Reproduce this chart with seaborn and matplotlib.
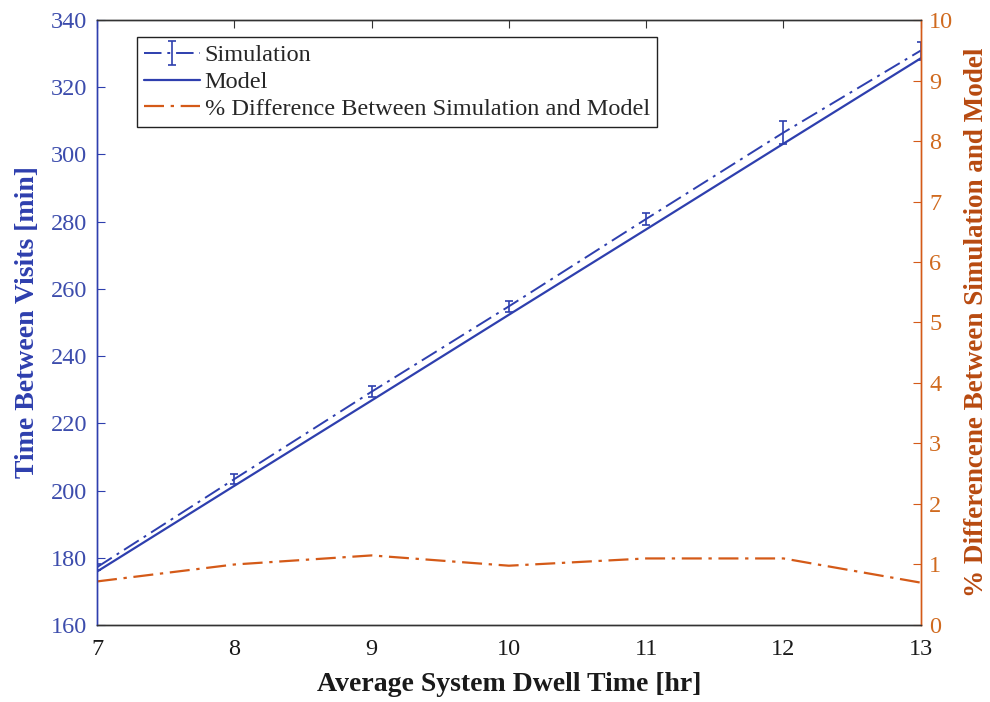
import numpy as np
import pandas as pd
import matplotlib
matplotlib.use("Agg")
import matplotlib.pyplot as plt
import seaborn as sns

# Data
dwell_hr = [7, 8, 9, 10, 11, 12, 13]
model_min = [175.9, 201.4, 226.8, 252.3, 277.7, 303.2, 328.6]
sim_min = [177.2, 203.4, 229.4, 254.8, 280.8, 306.5, 330.9]
sim_err = [0.8, 1.6, 1.6, 1.7, 1.7, 3.5, 2.7]
pct_diff = [0.72, 1.0, 1.15, 0.98, 1.1, 1.1, 0.70]

BLUE = "#2e3fae"
BLUE_TXT = "#3c4cac"
ORANGE = "#d45a18"
ORANGE_TXT = "#d06a1e"
ORANGE_LBL = "#b84a10"

sns.set_style("white")
plt.rcParams["font.family"] = ["Liberation Serif", "DejaVu Serif"]
plt.rcParams["mathtext.fontset"] = "stix"

df = pd.DataFrame({"dwell": dwell_hr, "model": model_min, "sim": sim_min,
                   "err": sim_err, "pct": pct_diff})

fig = plt.figure(figsize=(9.9, 7.02), dpi=100)
ax = fig.add_axes([0.098, 0.1097, 0.832, 0.8618])
ax2 = ax.twinx()

# Simulation with error bars
sim_h = ax.errorbar(df["dwell"], df["sim"], yerr=df["err"], color=BLUE,
                    linestyle=(0, (9, 3, 1.5, 3)), linewidth=1.4,
                    capsize=3, capthick=1.2, elinewidth=1.2,
                    label="Simulation")
# Model line
sns.lineplot(data=df, x="dwell", y="model", ax=ax, color=BLUE,
             linewidth=1.6, label="Model", legend=False)
# Percent difference on the right axis
sns.lineplot(data=df, x="dwell", y="pct", ax=ax2, color=ORANGE,
             linewidth=1.6, linestyle=(0, (9, 3, 1.5, 3)),
             label="% Difference Between Simulation and Model", legend=False)

ax.set_xlim(7, 13)
ax.set_ylim(160, 340)
ax2.set_ylim(0, 10)
ax.set_xticks(range(7, 14))
ax.set_yticks(range(160, 341, 20))
ax2.set_yticks(range(0, 11))

ax.set_xlabel("Average System Dwell Time [hr]", fontsize=20, fontweight="bold",
              color="#1a1a1a", labelpad=9)
ax.set_ylabel("Time Between Visits [min]", fontsize=20, fontweight="bold",
              color=BLUE, labelpad=8)
ax2.set_ylabel("% Differencene Between Simulation and Model", fontsize=19.5,
               fontweight="bold", color=ORANGE_LBL, labelpad=8)

ax.tick_params(axis="x", direction="in", length=6, colors="#333333",
               labelcolor="#1a1a1a", labelsize=17.5, top=True, pad=10)
ax.tick_params(axis="y", direction="in", length=6, colors=BLUE,
               labelcolor=BLUE_TXT, labelsize=17.5, pad=7)
ax2.tick_params(axis="y", direction="in", length=6, colors=ORANGE,
                labelcolor=ORANGE_TXT, labelsize=17.5, pad=6)

for a in (ax, ax2):
    for s in a.spines.values():
        s.set_visible(True)
        s.set_linewidth(1.0)
ax.spines["left"].set_color(BLUE)
ax2.spines["left"].set_color(BLUE)
ax.spines["right"].set_color(ORANGE)
ax2.spines["right"].set_color(ORANGE)
ax.spines["bottom"].set_color("#333333")
ax2.spines["bottom"].set_color("#333333")
ax.spines["top"].set_color("#333333")
ax2.spines["top"].set_color("#333333")

h1, l1 = ax.get_legend_handles_labels()
h2, l2 = ax2.get_legend_handles_labels()
order = {"Simulation": 0, "Model": 1}
pairs = sorted(zip(h1, l1), key=lambda p: order.get(p[1], 9))
handles = [p[0] for p in pairs] + h2
labels = [p[1] for p in pairs] + l2
leg = ax2.legend(handles, labels, loc="upper left",
                 bbox_to_anchor=(0.048, 0.972), fontsize=17.5, frameon=True,
                 fancybox=False, edgecolor="#222222", framealpha=1,
                 handlelength=2.3, handletextpad=0.2, borderpad=0.3,
                 labelspacing=0.2, borderaxespad=0)
leg.get_frame().set_linewidth(1.0)

fig.savefig("out.png", dpi=100)
